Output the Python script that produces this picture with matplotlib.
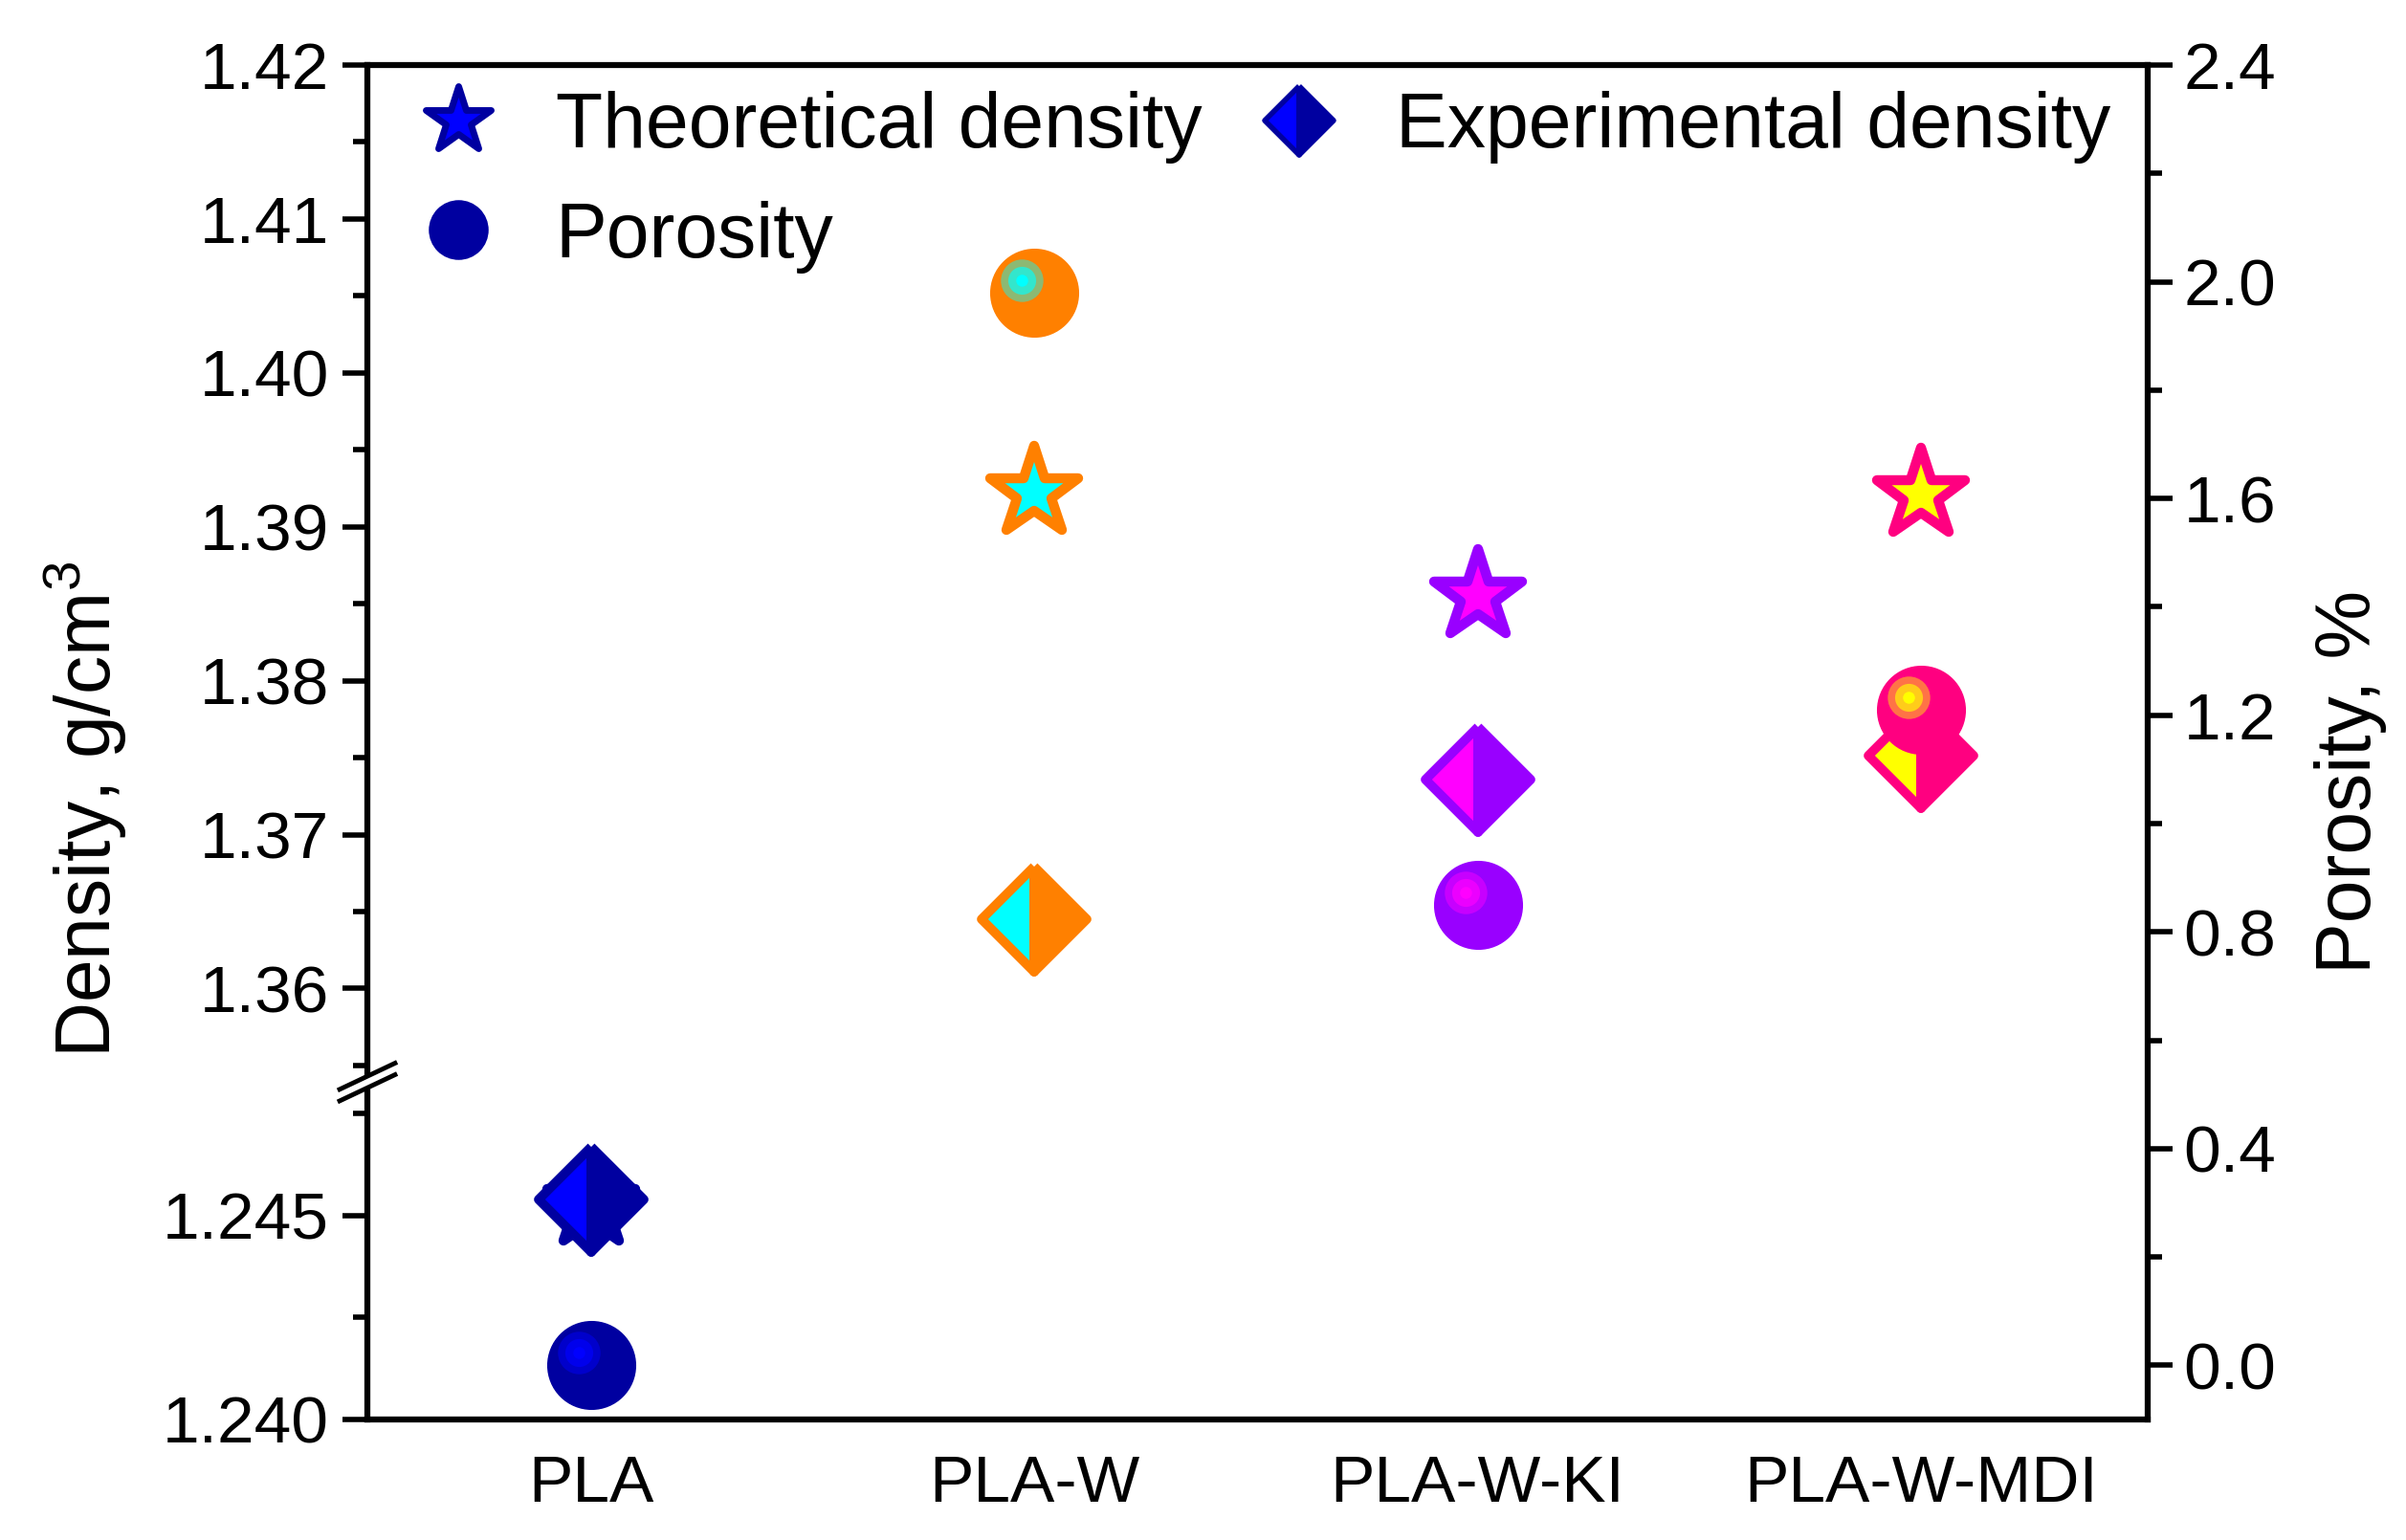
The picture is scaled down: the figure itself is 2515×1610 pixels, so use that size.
import matplotlib
matplotlib.use('Agg')
import matplotlib.pyplot as plt
from matplotlib.lines import Line2D
from matplotlib.markers import MarkerStyle
from matplotlib.patches import Polygon
from matplotlib.colors import to_rgb
from matplotlib.transforms import ScaledTranslation
from matplotlib.ticker import MultipleLocator, FormatStrFormatter

plt.rcParams['font.family'] = ['Liberation Sans', 'DejaVu Sans']
plt.rcParams['mathtext.default'] = 'regular'

# data
samples = ['PLA', 'PLA-W', 'PLA-W-KI', 'PLA-W-MDI']
theoretical = [1.2453, 1.3922, 1.3855, 1.3921]   # g/cm3
experimental = [1.2454, 1.3645, 1.3736, 1.3751]  # g/cm3
porosity = [0.0, 1.98, 0.85, 1.21]               # %

dark = ['#0000a0', '#ff8000', '#9900ff', '#ff0080']
light = ['#0000ff', '#00ffff', '#ff00ff', '#ffff00']


def mix(c1, c2, t):
    a, b = to_rgb(c1), to_rgb(c2)
    return tuple(a[i] * (1 - t) + b[i] * t for i in range(3))


star = MarkerStyle('*', joinstyle='round')
diamond = MarkerStyle('D', fillstyle='left', joinstyle='round')

W, H = 2515, 1610
dpi = 100
fig = plt.figure(figsize=(W / dpi, H / dpi), dpi=dpi)

L, R = 384 / W, 2245 / W
B, S, T = 1 - 1484 / H, 1 - 1130 / H, 1 - 68 / H

ax_bot = fig.add_axes([L, B, R - L, S - B])
ax_top = fig.add_axes([L, S, R - L, T - S])
ax_p = fig.add_axes([L, B, R - L, T - B])

x = list(range(len(samples)))
xlim = (-0.504, 3.511)
lw = 4.5
fs = 50

# density on the broken left axis (both halves get all points, clipping decides)
for ax in (ax_top, ax_bot):
    ax.set_facecolor('none')
    for i in x:
        ax.plot(x[i], theoretical[i], ls='none', marker=star, ms=70, mew=7.5,
                mfc=light[i], mec=dark[i])
        ax.plot(x[i], experimental[i], ls='none', marker=diamond, ms=56, mew=7,
                mfc=light[i], mfcalt=dark[i], mec=dark[i])
    ax.set_xlim(*xlim)
    for s in ('top', 'bottom', 'right'):
        ax.spines[s].set_visible(False)
    ax.spines['left'].set_linewidth(lw)
    ax.xaxis.set_visible(False)
    ax.tick_params(axis='y', which='major', direction='out', length=19, width=4,
                   labelsize=fs, pad=10)
    ax.tick_params(axis='y', which='minor', direction='out', length=11, width=4)

ax_top.set_ylim(1.354, 1.42)
ax_top.yaxis.set_major_locator(MultipleLocator(0.01))
ax_top.yaxis.set_minor_locator(MultipleLocator(0.005))
ax_top.yaxis.set_major_formatter(FormatStrFormatter('%.2f'))

ax_bot.set_ylim(1.240, 1.2483)
ax_bot.yaxis.set_major_locator(MultipleLocator(0.005))
ax_bot.yaxis.set_minor_locator(MultipleLocator(0.0025))
ax_bot.yaxis.set_major_formatter(FormatStrFormatter('%.3f'))

# porosity on the right axis, drawn on top
ax_p.set_facecolor('none')
shift = ax_p.transData + ScaledTranslation(-0.13, 0.13, fig.dpi_scale_trans)
for i in x:
    ax_p.plot(x[i], porosity[i], ls='none', marker='o', ms=66, mew=1,
              mfc=dark[i], mec=dark[i])
    ax_p.plot(x[i], porosity[i], ls='none', marker='o', ms=32, mew=0,
              mfc=mix(dark[i], light[i], 0.45), transform=shift)
    ax_p.plot(x[i], porosity[i], ls='none', marker='o', ms=21, mew=0,
              mfc=mix(dark[i], light[i], 0.8), transform=shift)
    ax_p.plot(x[i], porosity[i], ls='none', marker='o', ms=9, mew=0,
              mfc=light[i], transform=shift)
ax_p.set_xlim(*xlim)
ax_p.set_ylim(-0.1, 2.4)
ax_p.spines['left'].set_visible(False)
for s in ('top', 'bottom', 'right'):
    ax_p.spines[s].set_linewidth(lw)
ax_p.yaxis.tick_right()
ax_p.yaxis.set_major_locator(MultipleLocator(0.4))
ax_p.yaxis.set_minor_locator(MultipleLocator(0.2))
ax_p.yaxis.set_major_formatter(FormatStrFormatter('%.1f'))
ax_p.tick_params(axis='y', which='major', direction='out', length=19, width=4,
                 labelsize=fs, pad=8)
ax_p.tick_params(axis='y', which='minor', direction='out', length=11, width=4)
ax_p.set_xticks(x)
ax_p.set_xticklabels(samples)
ax_p.tick_params(axis='x', length=0, labelsize=fs, pad=26)

# axis break marks on the left spine
dx, dy, gap = 0.0115, 0.0085, 0.0075
ys = S + 0.003
fig.patches.append(Polygon([(L - dx, ys - gap - dy), (L + dx, ys - gap + dy),
                            (L + dx, ys + dy), (L - dx, ys - dy)],
                           closed=True, fc='white', ec='none',
                           transform=fig.transFigure, zorder=10))
for off in (0, -gap):
    fig.lines.append(Line2D([L - dx, L + dx], [ys + off - dy, ys + off + dy],
                            color='black', lw=3.5, transform=fig.transFigure,
                            zorder=11))

fig.text(0.035, 0.4745, 'Density, g/cm$^3$', rotation=90, fontsize=58,
         ha='center', va='center')
fig.text(0.977, 0.492, 'Porosity, %', rotation=90, fontsize=58,
         ha='center', va='center')

h1 = Line2D([], [], ls='none', marker=star, ms=52, mew=5, mfc=light[0], mec=dark[0])
h2 = Line2D([], [], ls='none', marker=diamond, ms=37, mew=4,
            mfc=light[0], mfcalt=dark[0], mec=dark[0])
h3 = Line2D([], [], ls='none', marker='o', ms=44, mew=1, mfc=dark[0], mec=dark[0])
fig.legend([h1, h3, h2], ['Theoretical density', 'Porosity', 'Experimental density'],
           ncol=2, loc='upper left', bbox_to_anchor=(L + 0.0187, 1 - 95 / H),
           bbox_transform=fig.transFigure, frameon=False, fontsize=58,
           handlelength=1.2, handletextpad=0.66, columnspacing=0.66,
           labelspacing=0.48, borderpad=0, borderaxespad=0)

plt.savefig('out.png', dpi=dpi)
